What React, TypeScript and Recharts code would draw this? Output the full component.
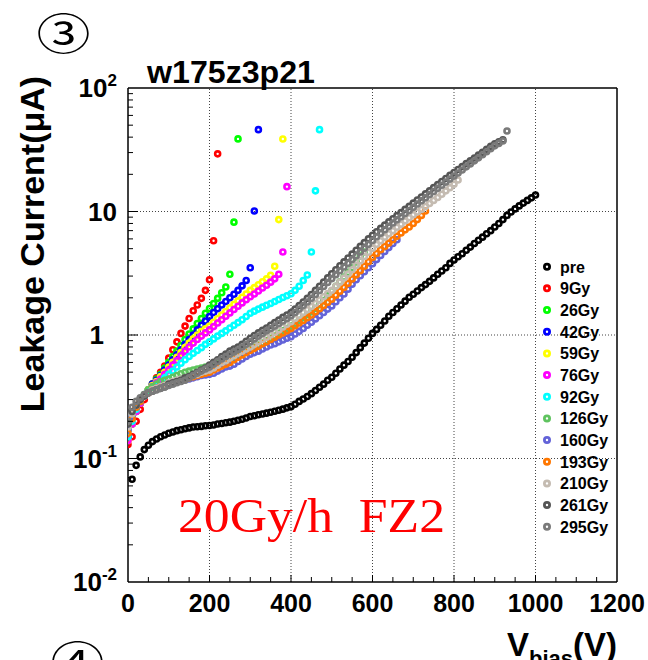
import React from "react";
import { ScatterChart, Scatter, XAxis, YAxis, ReferenceLine } from "recharts";

// leakage current (uA) vs bias voltage, 10 V steps
const STEP = 10;

const PRE = [
  0.068, 0.088, 0.103, 0.118, 0.128, 0.137, 0.144, 0.15, 0.155, 0.16,
  0.164, 0.168, 0.171, 0.174, 0.177, 0.18, 0.181, 0.182, 0.184, 0.185,
  0.187, 0.19, 0.192, 0.195, 0.197, 0.2, 0.204, 0.208, 0.213, 0.219,
  0.222, 0.226, 0.229, 0.233, 0.237, 0.241, 0.246, 0.251, 0.257, 0.263,
  0.275, 0.29, 0.303, 0.318, 0.335, 0.355, 0.378, 0.4, 0.43, 0.455,
  0.49, 0.53, 0.57, 0.61, 0.66, 0.72, 0.79, 0.86, 0.94, 1.03,
  1.11, 1.2, 1.3, 1.42, 1.52, 1.63, 1.75, 1.88, 2.02, 2.14,
  2.27, 2.42, 2.56, 2.72, 2.9, 3.1, 3.3, 3.5, 3.8, 4.05,
  4.3, 4.55, 4.85, 5.15, 5.5, 5.85, 6.2, 6.6, 7.0, 7.5,
  8.0, 8.6, 9.3, 9.9, 10.5, 11.1, 11.7, 12.3, 12.9, 13.6,
];
const GY9 = [
  0.13, 0.15, 0.2, 0.25, 0.3, 0.35, 0.4, 0.45, 0.5, 0.56, 0.65, 0.76, 0.88,
  1.03, 1.18, 1.36, 1.57, 1.75, 1.98, 2.3, 2.8, 5.8, 29.3,
];
const GY26 = [
  0.15, 0.19, 0.24, 0.28, 0.32, 0.36, 0.4, 0.44, 0.48, 0.54, 0.6, 0.67, 0.74,
  0.82, 0.92, 1.02, 1.12, 1.24, 1.36, 1.5, 1.64, 1.8, 1.98, 2.2, 2.45, 3.1, 8.2, 38.7,
];
const GY42 = [
  0.15, 0.19, 0.24, 0.28, 0.32, 0.36, 0.4, 0.43, 0.47, 0.52, 0.57, 0.63, 0.69,
  0.76, 0.84, 0.92, 1.0, 1.1, 1.2, 1.3, 1.41, 1.52, 1.63, 1.75, 1.87, 2.0, 2.14,
  2.3, 2.5, 2.76, 3.5, 10.1, 46,
];
const GY59 = [
  0.14, 0.19, 0.24, 0.28, 0.32, 0.36, 0.39, 0.42, 0.46, 0.5, 0.55, 0.6, 0.66,
  0.72, 0.79, 0.86, 0.93, 1.0, 1.07, 1.12, 1.18, 1.27, 1.36, 1.45, 1.55, 1.66,
  1.77, 1.89, 2.02, 2.15, 2.3, 2.42, 2.55, 2.7, 2.85, 3.05, 3.6, 8.6, 38.6,
];
const GY76 = [
  0.14, 0.19, 0.24, 0.28, 0.32, 0.35, 0.38, 0.41, 0.44, 0.48, 0.52, 0.57, 0.62,
  0.68, 0.74, 0.8, 0.86, 0.92, 0.98, 1.04, 1.1, 1.17, 1.25, 1.33, 1.42, 1.51,
  1.61, 1.71, 1.82, 1.93, 2.04, 2.15, 2.27, 2.4, 2.53, 2.68, 2.85, 3.1, 4.7, 15.9,
];
const GY92 = [
  0.15, 0.2, 0.25, 0.29, 0.32, 0.35, 0.37, 0.39, 0.42, 0.45, 0.48, 0.51, 0.55,
  0.59, 0.63, 0.67, 0.71, 0.75, 0.79, 0.84, 0.88, 0.93, 0.98, 1.03, 1.08, 1.14,
  1.2, 1.26, 1.33, 1.41, 1.5, 1.56, 1.62, 1.68, 1.74, 1.8, 1.87, 1.94, 2.01,
  2.08, 2.16, 2.3, 2.48, 2.76, 3.06, 4.7, 14.7, 46,
];
const GY126 = [
  0.17, 0.22, 0.26, 0.3, 0.33, 0.36, 0.38, 0.4, 0.42, 0.43, 0.44, 0.455, 0.47,
  0.485, 0.5, 0.51, 0.52, 0.53, 0.54, 0.55, 0.56, 0.575, 0.59, 0.605, 0.62,
  0.64, 0.66, 0.68, 0.71, 0.74, 0.77, 0.8, 0.83, 0.86, 0.9, 0.94, 0.98, 1.03,
  1.08, 1.13, 1.18, 1.24, 1.31, 1.38, 1.46, 1.54, 1.64, 1.76, 1.9, 2.08, 2.28,
  2.48, 2.7, 2.94, 3.2, 3.5, 3.9, 4.35, 4.7,
];
const GY160 = [
  0.17, 0.22, 0.26, 0.29, 0.32, 0.34, 0.36, 0.37, 0.38, 0.39, 0.4, 0.41, 0.42,
  0.43, 0.435, 0.44, 0.45, 0.46, 0.47, 0.475, 0.48, 0.49, 0.51, 0.53, 0.55,
  0.56, 0.58, 0.61, 0.64, 0.67, 0.7, 0.72, 0.74, 0.77, 0.8, 0.83, 0.85, 0.88,
  0.91, 0.94, 0.97, 1.02, 1.07, 1.13, 1.2, 1.27, 1.35, 1.43, 1.52, 1.62, 1.72,
  1.86, 2.0, 2.15, 2.35, 2.58, 2.8, 3.02, 3.25, 3.5, 3.78, 4.08, 4.4, 4.75, 5.1,
  5.5, 5.9,
];
const GY193 = [
  0.16, 0.21, 0.26, 0.29, 0.32, 0.34, 0.36, 0.37, 0.38, 0.39, 0.4, 0.41, 0.42,
  0.43, 0.44, 0.45, 0.46, 0.47, 0.48, 0.49, 0.5, 0.52, 0.54, 0.56, 0.58, 0.6,
  0.63, 0.66, 0.69, 0.72, 0.75, 0.78, 0.81, 0.85, 0.88, 0.92, 0.96, 1.0, 1.04,
  1.08, 1.13, 1.19, 1.25, 1.31, 1.38, 1.45, 1.54, 1.63, 1.73, 1.84, 1.95, 2.1,
  2.26, 2.43, 2.62, 2.84, 3.07, 3.32, 3.6, 3.92, 4.25, 4.57, 4.9, 5.2, 5.55, 5.9,
  6.3, 6.7, 7.1, 7.5, 8.0, 8.6, 9.3, 10.1,
];
const GY210 = [
  0.18, 0.23, 0.27, 0.3, 0.32, 0.34, 0.36, 0.37, 0.38, 0.39, 0.41, 0.42, 0.43,
  0.44, 0.45, 0.46, 0.47, 0.48, 0.5, 0.51, 0.52, 0.54, 0.57, 0.6, 0.62, 0.65,
  0.68, 0.71, 0.74, 0.77, 0.8, 0.84, 0.88, 0.92, 0.96, 1.0, 1.05, 1.1, 1.16,
  1.22, 1.28, 1.36, 1.44, 1.52, 1.6, 1.7, 1.8, 1.92, 2.04, 2.17, 2.3, 2.48, 2.68,
  2.89, 3.12, 3.38, 3.66, 3.98, 4.32, 4.68, 5.05, 5.42, 5.8, 6.2, 6.6, 7.0, 7.45,
  7.9, 8.4, 8.9, 9.4, 9.9, 10.4, 11.0, 11.6, 12.3, 13.0, 13.8, 14.7, 15.6, 16.6,
  18.0,
];
const GY261 = [
  0.19, 0.24, 0.27, 0.3, 0.32, 0.34, 0.35, 0.36, 0.37, 0.38, 0.4, 0.41, 0.42,
  0.43, 0.45, 0.46, 0.48, 0.5, 0.52, 0.54, 0.57, 0.6, 0.63, 0.67, 0.7, 0.74,
  0.77, 0.8, 0.84, 0.89, 0.94, 0.99, 1.04, 1.09, 1.14, 1.2, 1.26, 1.32, 1.39,
  1.45, 1.52, 1.62, 1.73, 1.85, 1.98, 2.13, 2.3, 2.48, 2.68, 2.9, 3.13, 3.38,
  3.64, 3.91, 4.2, 4.52, 4.86, 5.22, 5.6, 6.0, 6.42, 6.86, 7.3, 7.76, 8.24, 8.74,
  9.26, 9.8, 10.4, 11.0, 11.7, 12.4, 13.1, 13.9, 14.7, 15.6, 16.5, 17.5, 18.5,
  19.6, 20.7, 21.9, 23.1, 24.4, 25.7, 27.1, 28.6, 30.2, 31.9, 33.7, 35.3, 36.6,
  38.0,
];
const GY295 = [
  0.2, 0.26, 0.29, 0.31, 0.33, 0.34, 0.35, 0.36, 0.37, 0.38, 0.39, 0.4, 0.41,
  0.42, 0.43, 0.45, 0.47, 0.49, 0.51, 0.53, 0.55, 0.58, 0.61, 0.64, 0.67, 0.7,
  0.73, 0.76, 0.8, 0.84, 0.88, 0.93, 0.98, 1.03, 1.08, 1.13, 1.18, 1.24, 1.3,
  1.36, 1.43, 1.52, 1.62, 1.73, 1.85, 1.98, 2.13, 2.29, 2.47, 2.66, 2.86, 3.08,
  3.31, 3.55, 3.81, 4.08, 4.38, 4.7, 5.05, 5.42, 5.82, 6.24, 6.68, 7.12, 7.58,
  8.06, 8.56, 9.08, 9.64, 10.2, 10.8, 11.5, 12.2, 12.9, 13.7, 14.5, 15.4, 16.3,
  17.3, 18.3, 19.4, 20.5, 21.7, 23.0, 24.3, 25.7, 27.2, 28.8, 30.5, 32.2, 34.0,
  35.6, 37.2, 44.8,
];

const NAMES = ["pre", "9Gy", "26Gy", "42Gy", "59Gy", "76Gy", "92Gy", "126Gy", "160Gy", "193Gy", "210Gy", "261Gy", "295Gy"];
const COLORS = ["#000000", "#ff0000", "#00ff00", "#0000ff", "#ffff00", "#ff00ff", "#00ffff", "#5fc35f", "#6363d8", "#ff7700", "#c4bbb1", "#555555", "#7a7a7a"];
const START_V = [10, 0, 0, 0, 0, 0, 0, 0, 0, 0, 0, 0, 0];
const VALUES = [PRE, GY9, GY26, GY42, GY59, GY76, GY92, GY126, GY160, GY193, GY210, GY261, GY295];

const X_TICKS = [0, 50, 100, 150, 200, 250, 300, 350, 400, 450, 500, 550, 600, 650, 700, 750, 800, 850, 900, 950, 1000, 1050, 1100, 1150, 1200];
const X_LABELED = [0, 200, 400, 600, 800, 1000, 1200];
const Y_MAJOR = [0.01, 0.1, 1, 10, 100];
const Y_TICKS = Y_MAJOR.slice(0, 4).flatMap((d) => [1, 2, 3, 4, 5, 6, 7, 8, 9].map((m) => d * m)).concat([100]);
const GRID_X = [200, 400, 600, 800, 1000];
const GRID_Y = [0.1, 1, 10];

const FONT = "'Liberation Sans', Arial, Helvetica, sans-serif";

const series = NAMES.map((name, k) => ({
  name,
  color: COLORS[k],
  data: VALUES[k].map((y, i) => ({ x: START_V[k] + i * STEP, y })),
}));

const XTick = (props: any) => {
  const { x, y, payload } = props;
  const v = payload.value;
  const major = X_LABELED.includes(v);
  return (
    <g>
      {v > 0 && v < 1200 && <line x1={x} x2={x} y1={y} y2={y - (major ? 7 : 5)} stroke="#000" strokeWidth={1} />}
      {major && (
        <text x={x} y={y + 30} textAnchor="middle" fontSize={25} fontWeight="bold" fontFamily={FONT} fill="#000">
          {v}
        </text>
      )}
    </g>
  );
};

const Y_LABEL: Record<string, [string, string]> = {
  "0.01": ["10", "-2"],
  "0.1": ["10", "-1"],
  "1": ["1", ""],
  "10": ["10", ""],
  "100": ["10", "2"],
};

const YTick = (props: any) => {
  const { x, y, payload } = props;
  const v = payload.value;
  const major = Y_MAJOR.includes(v);
  const lab = major ? Y_LABEL[String(v)] : null;
  return (
    <g>
      {v > 0.01 && v < 100 && <line x1={x} x2={x + (major ? 10 : 5)} y1={y} y2={y} stroke="#000" strokeWidth={1} />}
      {lab && (
        <text x={lab[0] === "1" ? x - 24 : x - 11} y={y + 9} textAnchor="end" fontSize={26} fontWeight="bold" fontFamily={FONT} fill="#000">
          {lab[0]}
          {lab[1] && (
            <tspan dy={-11} fontSize={17}>
              {lab[1]}
            </tspan>
          )}
        </text>
      )}
    </g>
  );
};

const ring = (color: string) => (p: any) => (
  <circle cx={p.cx} cy={p.cy} r={2.5} fill="none" stroke={color} strokeWidth={2.6} />
);

export default function App() {
  return (
    <div style={{ position: "absolute", left: 0, top: 0, width: 648, height: 660, background: "#fff", overflow: "hidden" }}>
      <ScatterChart width={648} height={660} margin={{ top: 88, right: 31, bottom: 0, left: 0 }}>
        <XAxis
          dataKey="x"
          type="number"
          domain={[0, 1200]}
          ticks={X_TICKS}
          interval={0}
          height={78}
          tickSize={0}
          tickMargin={0}
          tickLine={false}
          tick={<XTick />}
          axisLine={{ stroke: "#000", strokeWidth: 1.5 }}
          allowDataOverflow
        />
        <YAxis
          dataKey="y"
          type="number"
          scale="log"
          domain={[0.01, 100]}
          ticks={Y_TICKS}
          interval={0}
          width={128}
          tickSize={0}
          tickMargin={0}
          tickLine={false}
          tick={<YTick />}
          axisLine={{ stroke: "#000", strokeWidth: 1.5 }}
          allowDataOverflow
        />
        {GRID_X.map((v) => (
          <ReferenceLine key={"gx" + v} x={v} stroke="#444" strokeDasharray="1 2" strokeWidth={1} />
        ))}
        {GRID_Y.map((v) => (
          <ReferenceLine key={"gy" + v} y={v} stroke="#444" strokeDasharray="1 2" strokeWidth={1} />
        ))}
        <ReferenceLine x={1200} stroke="#000" strokeWidth={1.5} />
        <ReferenceLine y={100} stroke="#000" strokeWidth={1.5} />
        {series.map((s) => (
          <Scatter key={s.name} name={s.name} data={s.data} fill={s.color} shape={ring(s.color)} isAnimationActive={false} />
        ))}
      </ScatterChart>
      <svg width={648} height={660} style={{ position: "absolute", left: 0, top: 0, pointerEvents: "none" }}>
        <g transform="translate(63.5,34) scale(1.15,0.92)">
          <text x={0} y={17} textAnchor="middle" fontSize={47} fontFamily="'Noto Sans CJK JP', 'DejaVu Serif', serif" fill="#000">
            ③
          </text>
        </g>
        <g transform="translate(77.5,662) scale(1.15,0.92)">
          <text x={0} y={17} textAnchor="middle" fontSize={47} fontFamily="'Noto Sans CJK JP', 'DejaVu Serif', serif" fill="#000">
            ④
          </text>
        </g>
        <text x={147} y={83} fontSize={32} fontWeight="bold" fontFamily={FONT} fill="#000" textLength={168} lengthAdjust="spacingAndGlyphs">
          w175z3p21
        </text>
        <text
          transform="translate(44,244) rotate(-90)"
          x={0}
          y={0}
          textAnchor="middle"
          fontSize={34}
          fontWeight="bold"
          fontFamily={FONT}
          fill="#000"
        >
          Leakage Current(μA)
        </text>
        <text x={617} y={656} textAnchor="end" fontSize={33} fontWeight="bold" fontFamily={FONT} fill="#000">
          V
          <tspan dy={10} fontSize={22}>bias</tspan>
          <tspan dy={-10}>(V)</tspan>
        </text>
        <text x={178} y={532} fontSize={48} fontFamily="'Liberation Serif', 'Times New Roman', serif" fill="#ff0000" textLength={267} lengthAdjust="spacingAndGlyphs">
          20Gy/h{"\u00a0\u00a0"}FZ2
        </text>
        {series.map((s, i) => (
          <g key={"lg" + s.name}>
            <circle cx={547} cy={266.7 + i * 21.67} r={2.6} fill="none" stroke={s.color} strokeWidth={2.8} />
            <text x={560} y={266.7 + i * 21.67 + 6} fontSize={16} fontWeight="bold" fontFamily={FONT} fill="#000">
              {s.name}
            </text>
          </g>
        ))}
      </svg>
    </div>
  );
}
